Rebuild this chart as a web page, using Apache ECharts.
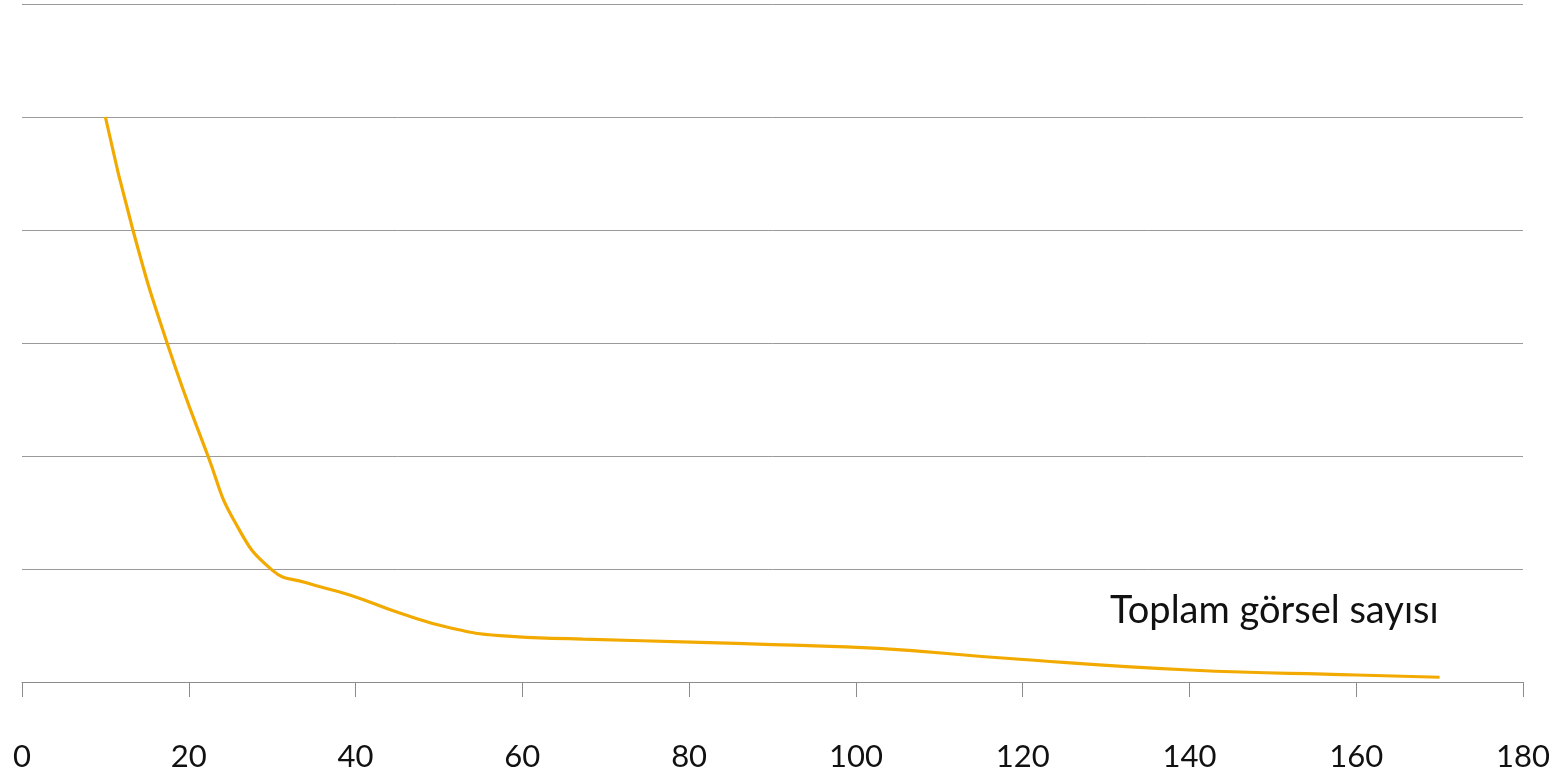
<!DOCTYPE html>
<html>
<head>
<meta charset="utf-8">
<script src="https://cdn.jsdelivr.net/npm/echarts@6/dist/echarts.min.js"></script>
<style>
html,body{margin:0;padding:0;background:#fff;}
#chart{width:1562px;height:778px;}
</style>
</head>
<body>
<div id="chart"></div>
<script>
// Data
const xValues = [10, 13.3, 17.4, 22.3, 25.5, 30.0, 34.0, 39.3, 45.3, 51.3, 57.3, 67.3, 81.3, 90.0, 102.7, 118, 140, 160, 170];
const yValues = [5.0, 4.0, 3.0, 2.0, 1.42, 0.99, 0.88, 0.77, 0.61, 0.48, 0.41, 0.38, 0.351, 0.33, 0.298, 0.21, 0.106, 0.062, 0.042];
const xTicks = [0, 20, 40, 60, 80, 100, 120, 140, 160, 180];
const seriesName = 'Toplam görsel sayısı';

const points = xValues.map((x, i) => [x, yValues[i]]);

const chart = echarts.init(document.getElementById('chart'), null, {renderer: 'canvas'});
chart.setOption({
  animation: false,
  backgroundColor: '#ffffff',
  grid: {left: 22, right: 39, top: 4, bottom: 96, containLabel: false},
  xAxis: {
    type: 'value',
    min: xTicks[0],
    max: xTicks[xTicks.length - 1],
    interval: 20,
    axisLine: {show: true, lineStyle: {color: '#8c8c8c', width: 1}},
    axisTick: {show: true, length: 15, lineStyle: {color: '#8c8c8c', width: 1}},
    splitLine: {show: false},
    axisLabel: {
      margin: 59,
      fontFamily: 'Lato',
      fontSize: 31,
      color: '#111',
      showMinLabel: true,
      showMaxLabel: true
    }
  },
  yAxis: {
    type: 'value',
    min: 0,
    max: 6,
    interval: 1,
    axisLine: {show: false},
    axisTick: {show: false},
    axisLabel: {show: false},
    splitLine: {show: true, lineStyle: {color: '#9a9a9a', width: 1}}
  },
  series: [{
    name: seriesName,
    type: 'line',
    data: points,
    smooth: 0.5,
    showSymbol: false,
    lineStyle: {color: '#F2AA00', width: 3.2},
    itemStyle: {color: '#F2AA00'}
  }],
  graphic: [{
    type: 'text',
    left: 1110,
    top: 592,
    style: {
      text: seriesName,
      fontFamily: 'Lato',
      fontSize: 38,
      fill: '#111'
    }
  }]
});
</script>
</body>
</html>
